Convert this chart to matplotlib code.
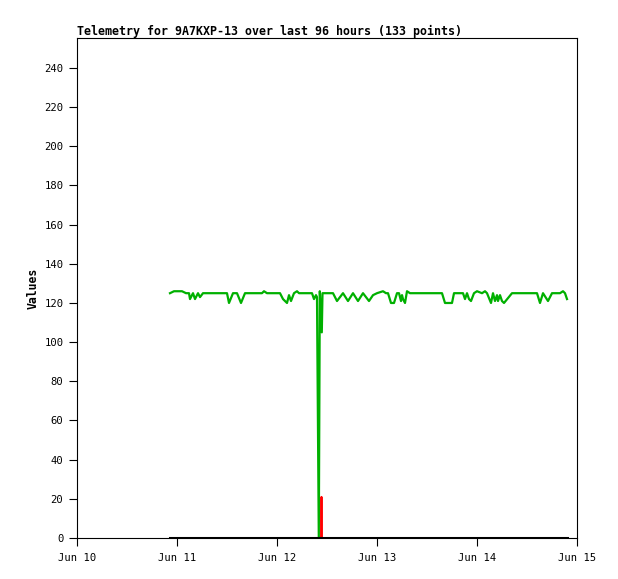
import matplotlib
matplotlib.use("Agg")
import matplotlib.pyplot as plt

# days since Jun 10 00:00
green_days = [0.93, 0.97, 1.05, 1.09, 1.12, 1.13, 1.16, 1.18, 1.21, 1.23, 1.26,
              1.50, 1.52, 1.56, 1.60, 1.64, 1.68, 1.85, 1.87, 1.90,
              2.03, 2.06, 2.10, 2.12, 2.14, 2.17, 2.20, 2.22, 2.35, 2.37, 2.39, 2.40,
              2.418, 2.428, 2.448, 2.455, 2.56, 2.60, 2.66, 2.71, 2.76, 2.81, 2.86, 2.92,
              2.96, 3.00, 3.06, 3.09, 3.11, 3.14, 3.17, 3.20, 3.22, 3.24, 3.25, 3.26,
              3.28, 3.30, 3.33, 3.65, 3.68, 3.75, 3.77, 3.86, 3.88, 3.90, 3.92, 3.94,
              3.97, 4.00, 4.05, 4.08, 4.10, 4.14, 4.16, 4.18, 4.20, 4.21, 4.23, 4.25,
              4.27, 4.35, 4.60, 4.63, 4.66, 4.71, 4.75, 4.83, 4.86, 4.88, 4.90]
green_vals = [125, 126, 126, 125, 125, 122, 125, 122, 125, 123, 125,
              125, 120, 125, 125, 120, 125, 125, 126, 125,
              125, 122, 120, 124, 121, 125, 126, 125, 125, 122, 124, 123,
              0, 126, 105, 125, 125, 121, 125, 121, 125, 121, 125, 121,
              124, 125, 126, 125, 125, 120, 120, 125, 125, 121, 124, 122,
              120, 126, 125, 125, 120, 120, 125, 125, 122, 125, 122, 121,
              125, 126, 125, 126, 125, 120, 125, 121, 124, 121, 124, 121,
              120, 125, 125, 120, 125, 121, 125, 125, 126, 125, 122]

red_days = [0.93, 2.443, 2.445, 2.447, 4.90]
red_vals = [0, 0, 21, 0, 0]

black_days = [0.93, 4.90]
black_vals = [0, 0]

tick_days = [0, 1, 2, 3, 4, 5]
tick_labels = ["Jun 10", "Jun 11", "Jun 12", "Jun 13", "Jun 14", "Jun 15"]
y_ticks = list(range(0, 241, 20))

plt.rcParams['font.family'] = ['DejaVu Sans Mono']

fig = plt.figure(figsize=(6.18, 5.79), dpi=100)
ax = fig.add_axes([77 / 618, 41 / 579, 500 / 618, 500 / 579])

ax.plot(green_days, green_vals, color='#00b000', linewidth=1.6)
ax.plot(red_days, red_vals, color='#ff0000', linewidth=1.4)
ax.plot(black_days, black_vals, color='black', linewidth=2.2)

ax.set_xlim(0, 5)
ax.set_ylim(0, 255.3)
ax.set_xticks(tick_days)
ax.set_xticklabels(tick_labels)
ax.set_yticks(y_ticks)
ax.tick_params(direction='out', length=5.8, width=0.8, labelsize=7.6, pad=4)
ax.tick_params(axis='x', pad=5)
for s in ax.spines.values():
    s.set_linewidth(0.8)

ax.set_title("Telemetry for 9A7KXP-13 over last 96 hours (133 points)",
             loc='left', fontsize=8.4, fontweight='bold', pad=2.5)
ax.set_ylabel("Values", fontsize=8.3, fontweight='bold')
ax.yaxis.set_label_coords(-0.075, 0.5)

fig.savefig("out.png", dpi=100)
